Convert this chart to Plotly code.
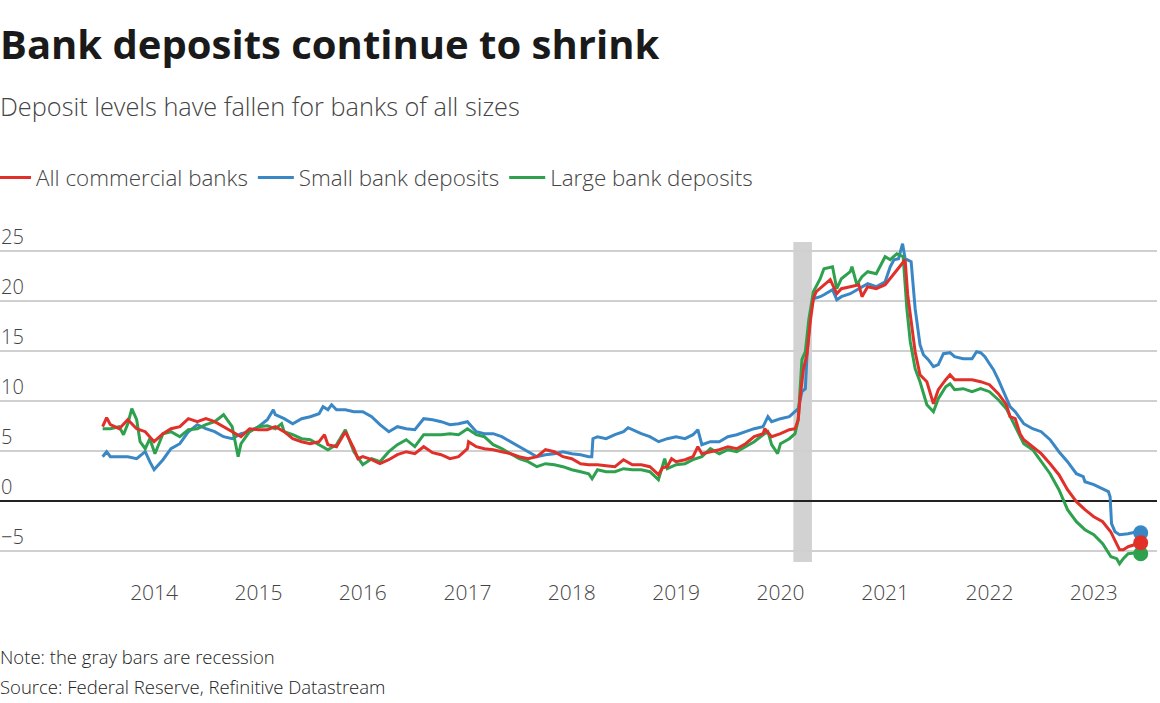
import plotly.graph_objects as go
import pandas as pd

# ---------------- data (year-over-year % change in deposits) ----------------
all_banks = [
    ("2013-07-05", 7.4), ("2013-07-19", 8.3), ("2013-08-01", 7.6), ("2013-09-01", 7.2), ("2013-10-01", 8.1),
    ("2013-11-01", 7.2), ("2013-12-01", 6.9), ("2014-01-01", 5.9), ("2014-02-01", 6.7), ("2014-03-01", 7.2),
    ("2014-04-01", 7.4), ("2014-05-01", 8.2), ("2014-06-01", 7.9), ("2014-07-01", 8.2), ("2014-08-01", 7.9),
    ("2014-09-01", 7.4), ("2014-10-01", 6.9), ("2014-11-01", 6.4), ("2014-12-01", 7.2), ("2015-01-01", 7.1),
    ("2015-02-01", 7.1), ("2015-03-01", 7.4), ("2015-04-01", 6.9), ("2015-05-01", 6.2), ("2015-06-01", 5.9),
    ("2015-07-01", 5.7), ("2015-08-01", 5.9), ("2015-08-20", 6.6), ("2015-09-01", 5.6), ("2015-10-01", 5.4),
    ("2015-11-01", 6.9), ("2015-12-01", 5.2), ("2015-12-15", 4.2), ("2016-01-01", 4.4), ("2016-02-01", 4.1),
    ("2016-03-01", 3.7), ("2016-04-01", 4.1), ("2016-05-01", 4.6), ("2016-06-01", 4.9), ("2016-07-01", 4.7),
    ("2016-08-01", 5.4), ("2016-09-01", 4.8), ("2016-10-01", 4.6), ("2016-11-01", 4.2), ("2016-12-01", 4.4),
    ("2017-01-01", 5.2), ("2017-01-05", 5.9), ("2017-02-01", 5.4), ("2017-03-01", 5.2), ("2017-04-01", 5.1),
    ("2017-05-01", 4.9), ("2017-06-01", 4.7), ("2017-07-01", 4.4), ("2017-08-01", 4.2), ("2017-09-01", 4.4),
    ("2017-10-01", 5.1), ("2017-11-01", 4.9), ("2017-12-01", 4.4), ("2018-01-01", 4.2), ("2018-02-01", 3.7),
    ("2018-03-01", 3.6), ("2018-04-01", 3.6), ("2018-05-01", 3.5), ("2018-06-01", 3.4), ("2018-07-01", 4.1),
    ("2018-08-01", 3.6), ("2018-09-01", 3.6), ("2018-10-01", 3.4), ("2018-10-31", 2.6), ("2018-11-15", 3.3),
    ("2018-12-01", 3.4), ("2018-12-16", 4.2), ("2019-01-01", 3.9), ("2019-02-01", 4.1), ("2019-03-01", 4.4),
    ("2019-03-18", 5.4), ("2019-04-01", 4.7), ("2019-05-01", 4.9), ("2019-06-01", 5.1), ("2019-07-01", 5.4),
    ("2019-08-01", 5.2), ("2019-09-01", 5.7), ("2019-10-01", 6.4), ("2019-11-01", 6.7), ("2019-11-07", 7.2),
    ("2019-12-01", 6.4), ("2020-01-01", 6.7), ("2020-02-01", 7.1), ("2020-02-21", 7.2), ("2020-03-03", 8.1),
    ("2020-03-10", 10.4), ("2020-03-21", 13.1), ("2020-04-03", 14.7), ("2020-04-15", 18.1), ("2020-04-25", 20.2),
    ("2020-05-05", 20.9), ("2020-06-01", 21.6), ("2020-06-23", 22.1), ("2020-07-16", 20.7), ("2020-08-01", 21.2),
    ("2020-09-01", 21.4), ("2020-10-01", 21.6), ("2020-10-12", 20.4), ("2020-11-01", 21.4), ("2020-12-01", 21.2),
    ("2021-01-01", 21.6), ("2021-02-01", 22.7), ("2021-03-01", 23.7), ("2021-03-12", 24.1), ("2021-03-21", 20.6),
    ("2021-04-02", 17.9), ("2021-04-16", 14.9), ("2021-05-03", 12.6), ("2021-05-27", 11.9), ("2021-06-19", 9.7),
    ("2021-07-06", 11.1), ("2021-08-01", 12.1), ("2021-08-16", 12.6), ("2021-09-01", 12.1), ("2021-10-01", 12.1),
    ("2021-11-01", 12.1), ("2021-12-01", 11.9), ("2022-01-01", 11.6), ("2022-02-01", 10.7), ("2022-03-01", 9.6),
    ("2022-03-14", 8.4), ("2022-04-01", 8.2), ("2022-04-18", 6.7), ("2022-05-01", 6.1), ("2022-06-01", 5.4),
    ("2022-07-01", 4.7), ("2022-08-01", 3.7), ("2022-09-01", 2.6), ("2022-10-01", 1.1), ("2022-11-01", -0.1),
    ("2022-12-01", -0.9), ("2023-01-01", -1.6), ("2023-02-01", -2.1), ("2023-03-01", -3.1), ("2023-04-01", -4.9),
    ("2023-04-14", -4.9), ("2023-05-01", -4.6), ("2023-06-01", -4.3), ("2023-06-14", -4.2),
]

small_banks = [
    ("2013-07-05", 4.4), ("2013-07-19", 4.9), ("2013-08-01", 4.4), ("2013-09-01", 4.4), ("2013-10-01", 4.4),
    ("2013-11-01", 4.2), ("2013-12-01", 4.9), ("2013-12-17", 3.9), ("2014-01-01", 3.1), ("2014-02-01", 4.1),
    ("2014-03-01", 5.2), ("2014-04-01", 5.7), ("2014-05-01", 6.9), ("2014-06-01", 7.6), ("2014-07-01", 7.2),
    ("2014-08-01", 6.9), ("2014-09-01", 6.4), ("2014-10-01", 6.2), ("2014-11-01", 6.7), ("2014-12-01", 6.9),
    ("2015-01-01", 7.4), ("2015-02-01", 8.1), ("2015-02-22", 9.1), ("2015-03-01", 8.6), ("2015-04-01", 8.2),
    ("2015-05-01", 7.7), ("2015-06-01", 8.2), ("2015-07-01", 8.4), ("2015-08-01", 8.7), ("2015-08-15", 9.4),
    ("2015-09-01", 9.1), ("2015-09-14", 9.6), ("2015-10-01", 9.1), ("2015-11-01", 9.1), ("2015-12-01", 8.9),
    ("2016-01-01", 8.9), ("2016-02-01", 8.4), ("2016-03-01", 7.6), ("2016-04-01", 6.9), ("2016-05-01", 7.4),
    ("2016-06-01", 7.2), ("2016-07-01", 7.1), ("2016-08-01", 8.2), ("2016-09-01", 8.1), ("2016-10-01", 7.9),
    ("2016-11-01", 7.6), ("2016-12-01", 7.7), ("2017-01-01", 7.9), ("2017-02-01", 6.9), ("2017-03-01", 6.7),
    ("2017-04-01", 6.7), ("2017-05-01", 6.4), ("2017-06-01", 5.9), ("2017-07-01", 5.4), ("2017-08-01", 4.9),
    ("2017-09-01", 4.4), ("2017-10-01", 4.6), ("2017-11-01", 4.7), ("2017-12-01", 4.9), ("2018-01-01", 4.7),
    ("2018-02-01", 4.6), ("2018-03-01", 4.4), ("2018-03-12", 4.4), ("2018-03-16", 6.2), ("2018-04-01", 6.4),
    ("2018-05-01", 6.2), ("2018-06-01", 6.6), ("2018-07-01", 6.9), ("2018-07-17", 7.3), ("2018-08-01", 7.1),
    ("2018-09-01", 6.7), ("2018-10-01", 6.4), ("2018-11-01", 5.9), ("2018-12-01", 6.2), ("2019-01-01", 6.4),
    ("2019-02-01", 6.2), ("2019-03-01", 6.6), ("2019-03-18", 7.1), ("2019-04-01", 5.6), ("2019-05-01", 5.9),
    ("2019-06-01", 5.9), ("2019-07-01", 6.4), ("2019-08-01", 6.6), ("2019-09-01", 6.9), ("2019-10-01", 7.2),
    ("2019-11-01", 7.4), ("2019-11-18", 8.4), ("2019-12-01", 7.9), ("2020-01-01", 8.2), ("2020-02-01", 8.4),
    ("2020-02-21", 8.9), ("2020-03-03", 9.2), ("2020-03-16", 10.9), ("2020-03-28", 11.2), ("2020-04-03", 14.7),
    ("2020-04-15", 18.7), ("2020-04-25", 20.2), ("2020-05-19", 20.4), ("2020-06-01", 20.6), ("2020-07-01", 21.1),
    ("2020-07-16", 20.1), ("2020-08-01", 20.4), ("2020-09-01", 20.7), ("2020-10-01", 21.2), ("2020-11-01", 21.7),
    ("2020-12-01", 21.4), ("2021-01-01", 21.9), ("2021-01-19", 23.4), ("2021-02-01", 24.1), ("2021-02-17", 24.2),
    ("2021-03-03", 25.7), ("2021-03-12", 24.2), ("2021-04-02", 23.9), ("2021-04-16", 19.2), ("2021-05-03", 15.6),
    ("2021-05-15", 14.6), ("2021-06-01", 14.1), ("2021-06-19", 13.4), ("2021-07-06", 13.6), ("2021-07-24", 14.7),
    ("2021-08-16", 14.8), ("2021-09-01", 14.4), ("2021-10-01", 14.2), ("2021-11-01", 14.2), ("2021-11-17", 14.9),
    ("2021-12-01", 14.8), ("2021-12-16", 14.4), ("2022-01-01", 13.7), ("2022-01-15", 13.1), ("2022-02-01", 12.1),
    ("2022-02-19", 10.9), ("2022-03-01", 10.4), ("2022-03-14", 9.4), ("2022-04-01", 8.9), ("2022-05-01", 7.7),
    ("2022-06-01", 7.2), ("2022-07-01", 6.9), ("2022-08-01", 6.1), ("2022-09-01", 4.9), ("2022-10-01", 3.9),
    ("2022-11-01", 2.7), ("2022-11-25", 2.4), ("2022-12-01", 1.9), ("2023-01-01", 1.6), ("2023-02-01", 1.2),
    ("2023-02-21", 0.9), ("2023-02-27", 0.4), ("2023-03-04", -2.3), ("2023-03-16", -3.1), ("2023-04-01", -3.4),
    ("2023-05-01", -3.3), ("2023-06-01", -3.1), ("2023-06-14", -3.2),
]

large_banks = [
    ("2013-07-05", 7.2), ("2013-08-01", 7.2), ("2013-09-01", 7.4), ("2013-09-16", 6.6), ("2013-10-01", 7.7),
    ("2013-10-15", 9.2), ("2013-11-01", 8.1), ("2013-11-13", 5.9), ("2013-12-01", 5.2), ("2013-12-17", 6.2),
    ("2014-01-04", 4.7), ("2014-02-01", 6.7), ("2014-03-01", 6.9), ("2014-04-01", 6.4), ("2014-05-01", 7.1),
    ("2014-06-01", 7.2), ("2014-07-01", 7.6), ("2014-08-01", 7.9), ("2014-09-01", 8.6), ("2014-10-01", 7.4),
    ("2014-10-22", 4.4), ("2014-11-01", 5.7), ("2014-12-01", 6.9), ("2015-01-01", 7.4), ("2015-02-01", 7.5),
    ("2015-03-01", 7.2), ("2015-03-23", 7.7), ("2015-04-01", 6.9), ("2015-05-01", 6.6), ("2015-06-01", 6.2),
    ("2015-07-01", 6.1), ("2015-08-01", 5.6), ("2015-09-01", 5.1), ("2015-10-01", 5.6), ("2015-11-01", 7.1),
    ("2015-12-01", 4.9), ("2016-01-01", 3.6), ("2016-02-01", 4.2), ("2016-03-01", 3.9), ("2016-04-01", 4.9),
    ("2016-05-01", 5.6), ("2016-06-01", 6.1), ("2016-07-01", 5.4), ("2016-08-01", 6.6), ("2016-09-01", 6.6),
    ("2016-10-01", 6.6), ("2016-11-01", 6.7), ("2016-12-01", 6.6), ("2017-01-01", 7.2), ("2017-02-01", 6.6),
    ("2017-03-01", 6.4), ("2017-04-01", 5.6), ("2017-05-01", 5.2), ("2017-06-01", 4.7), ("2017-07-01", 4.2),
    ("2017-08-01", 3.9), ("2017-09-01", 3.4), ("2017-10-01", 3.7), ("2017-11-01", 3.6), ("2017-12-01", 3.4),
    ("2018-01-01", 3.1), ("2018-02-01", 2.9), ("2018-03-01", 2.7), ("2018-03-13", 2.2), ("2018-04-01", 3.1),
    ("2018-05-01", 2.9), ("2018-06-01", 2.9), ("2018-07-01", 3.2), ("2018-08-01", 3.1), ("2018-09-01", 3.1),
    ("2018-10-01", 2.9), ("2018-10-31", 2.1), ("2018-11-22", 4.2), ("2018-12-01", 3.2), ("2019-01-01", 3.6),
    ("2019-02-01", 3.7), ("2019-03-01", 4.1), ("2019-04-01", 4.4), ("2019-05-01", 5.2), ("2019-06-01", 4.7),
    ("2019-07-01", 5.1), ("2019-08-01", 4.9), ("2019-09-01", 5.4), ("2019-10-01", 5.9), ("2019-11-01", 6.6),
    ("2019-11-18", 6.9), ("2019-12-01", 5.6), ("2019-12-22", 4.7), ("2020-01-01", 5.7), ("2020-02-01", 6.2),
    ("2020-02-21", 6.7), ("2020-03-03", 8.1), ("2020-03-16", 14.1), ("2020-03-28", 14.9), ("2020-04-09", 18.1),
    ("2020-04-25", 20.9), ("2020-05-19", 22.2), ("2020-06-01", 23.2), ("2020-07-01", 23.4), ("2020-07-16", 21.2),
    ("2020-08-01", 22.2), ("2020-09-01", 22.9), ("2020-09-07", 23.4), ("2020-09-24", 21.6), ("2020-10-12", 22.4),
    ("2020-11-01", 22.9), ("2020-12-01", 22.7), ("2020-12-14", 23.4), ("2021-01-01", 24.4), ("2021-01-19", 24.1),
    ("2021-02-11", 24.7), ("2021-03-05", 24.4), ("2021-03-18", 19.2), ("2021-03-30", 15.9), ("2021-04-16", 13.2),
    ("2021-05-03", 11.9), ("2021-05-27", 9.6), ("2021-06-19", 8.9), ("2021-07-06", 10.2), ("2021-08-01", 11.4),
    ("2021-08-16", 11.7), ("2021-09-01", 11.1), ("2021-10-01", 11.2), ("2021-11-01", 10.9), ("2021-12-01", 11.2),
    ("2022-01-01", 10.9), ("2022-02-01", 10.1), ("2022-03-01", 9.2), ("2022-04-01", 7.4), ("2022-05-01", 5.7),
    ("2022-06-01", 5.1), ("2022-07-01", 3.9), ("2022-08-01", 2.7), ("2022-09-01", 1.1), ("2022-10-01", -0.9),
    ("2022-11-01", -2.1), ("2022-12-01", -2.9), ("2023-01-01", -3.4), ("2023-02-01", -4.3), ("2023-03-02", -5.6),
    ("2023-03-22", -5.8), ("2023-04-01", -6.3), ("2023-04-14", -5.8), ("2023-05-01", -5.3), ("2023-06-01", -5.2),
    ("2023-06-14", -5.3),
]

recession_start = ["2020-02-15"]
recession_end = ["2020-04-20"]

year_ticks = ["2014-01-01", "2015-01-01", "2016-01-01", "2017-01-01", "2018-01-01",
              "2019-01-01", "2020-01-01", "2021-01-01", "2022-01-01", "2023-01-01"]
year_labels = ["2014", "2015", "2016", "2017", "2018", "2019", "2020", "2021", "2022", "2023"]
y_ticks = [-5, 0, 5, 10, 15, 20, 25]

series = [
    ("All commercial banks", all_banks, "#e1302a", 1),
    ("Small bank deposits", small_banks, "#3a87c6", 2),
    ("Large bank deposits", large_banks, "#2ea14f", 3),
]

FONT = "Open Sans"
TEXT = "#444444"

fig = go.Figure()

# recession band (spans the drawn value band, lines may overshoot it slightly)
for x0, x1 in zip(recession_start, recession_end):
    fig.add_shape(type="rect", x0=x0, x1=x1, xref="x", yref="y", y0=-6.13, y1=25.87,
                  fillcolor="#d2d2d2", opacity=1, line_width=0, layer="below")

draw_order = [1, 2, 0]  # blue, green, then red on top
for i in draw_order:
    name, data, color, rank = series[i]
    df = pd.DataFrame(data, columns=["date", "value"])
    df["date"] = pd.to_datetime(df["date"])
    fig.add_trace(go.Scatter(x=df["date"], y=df["value"], mode="lines", name=name,
                             line=dict(color=color, width=3), legendrank=rank))
for i in draw_order:
    name, data, color, rank = series[i]
    last_date, last_val = data[-1]
    fig.add_trace(go.Scatter(x=[pd.to_datetime(last_date)], y=[last_val], mode="markers",
                             marker=dict(color=color, size=15), showlegend=False,
                             hoverinfo="skip"))

PLOT_TOP, PLOT_BOT = 222, 572
H = PLOT_BOT - PLOT_TOP
W = 1157


def py(pix):
    return (PLOT_BOT - pix) / H


ax = -2 / W
annotations = [
    dict(text="<b>Bank deposits continue to shrink</b>", x=ax, y=py(43), xref="paper", yref="paper",
         xanchor="left", yanchor="middle", showarrow=False,
         font=dict(family=FONT, size=40, color="#1a1a1a")),
    dict(text="Deposit levels have fallen for banks of all sizes", x=ax, y=py(106), xref="paper",
         yref="paper", xanchor="left", yanchor="middle", showarrow=False,
         font=dict(family=FONT, size=25.3, color=TEXT, weight=300)),
    dict(text="Note: the gray bars are recession", x=ax, y=py(656), xref="paper", yref="paper",
         xanchor="left", yanchor="middle", showarrow=False,
         font=dict(family=FONT, size=18.5, color="#222222", weight=300)),
    dict(text="Source: Federal Reserve, Refinitive Datastream", x=ax, y=py(686), xref="paper",
         yref="paper", xanchor="left", yanchor="middle", showarrow=False,
         font=dict(family=FONT, size=18.5, color="#222222", weight=300)),
]

fig.update_layout(
    width=1160, height=703,
    margin=dict(l=0, r=1160 - W, t=PLOT_TOP, b=703 - PLOT_BOT, pad=0, autoexpand=False),
    paper_bgcolor="white", plot_bgcolor="white",
    font=dict(family=FONT, color=TEXT),
    showlegend=True,
    legend=dict(orientation="h", x=-10 / W, xanchor="left", y=py(178), yanchor="middle",
                font=dict(family=FONT, size=22.4, color=TEXT, weight=300), traceorder="normal",
                itemwidth=36, bgcolor="rgba(0,0,0,0)"),
    annotations=annotations,
    xaxis=dict(type="date", range=["2012-07-11", "2023-08-10"], tickvals=year_ticks,
               ticktext=year_labels, showgrid=False, showline=False, zeroline=False,
               ticks="outside", ticklen=2, tickcolor="rgba(0,0,0,0)",
               tickfont=dict(family=FONT, size=21, color=TEXT, weight=300)),
    yaxis=dict(range=[-7.13, 27.87], tickvals=y_ticks, showgrid=True, gridcolor="#d0d0d0",
               gridwidth=1.5, zeroline=True, zerolinecolor="#222222", zerolinewidth=1.5,
               showline=False, ticks="", ticklabelposition="inside top", ticklabelstandoff=-2,
               tickfont=dict(family=FONT, size=20, color=TEXT, weight=300)),
    hovermode=False,
)

fig.write_html("out.html", config={"displayModeBar": False},
               post_script="document.body.style.margin='0px';")
